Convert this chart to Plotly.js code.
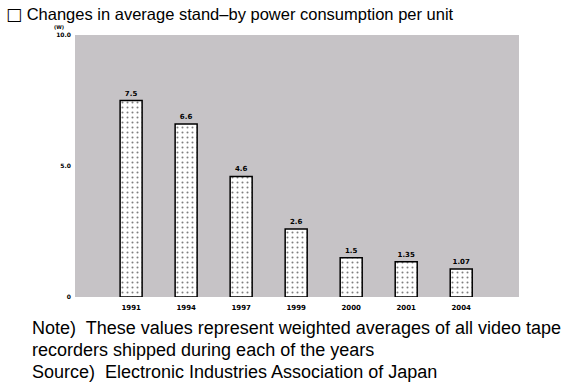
<!DOCTYPE html>
<html>
<head>
<meta charset="utf-8">
<script src="https://cdn.plot.ly/plotly-3.0.1.min.js"></script>
<style>
html,body{margin:0;padding:0;background:#fff;}
#chart{width:572px;height:391px;}
</style>
</head>
<body>
<div id="chart"></div>
<script>
const years = ['1991', '1994', '1997', '1999', '2000', '2001', '2004'];
const values = [7.5, 6.6, 4.6, 2.6, 1.5, 1.35, 1.07];
const valueLabels = ['7.5', '6.6', '4.6', '2.6', '1.5', '1.35', '1.07'];
const yTickVals = [0, 5, 10];
const yTickText = ['0', '5.0', '10.0'];
const titleText = 'Changes in average stand–by power consumption per unit';
const noteLines = [
  'Note)  These values represent weighted averages of all video tape',
  'recorders shipped during each of the years',
  'Source)  Electronic Industries Association of Japan'
];

const trace = {
  type: 'bar',
  x: years,
  y: values,
  text: valueLabels,
  texttemplate: '%{text}',
  textposition: 'outside',
  cliponaxis: false,
  textfont: {family: 'DejaVu Sans', size: 7, color: '#000', weight: 'bold'},
  width: 0.4,
  marker: {
    color: '#ffffff',
    line: {color: '#000', width: 1.5},
    pattern: {shape: '.', fgcolor: '#000', bgcolor: '#fff', size: 5, solidity: 0.13, fillmode: 'overlay'}
  },
  hoverinfo: 'skip'
};

const plotH = 262, plotW = 444, topM = 35, leftM = 75;
const py = (pxY) => (topM + plotH - pxY) / plotH;
const pxX = (pxx) => (pxx - leftM) / plotW;

const annotations = [
  {xref: 'paper', yref: 'paper', x: -0.02, y: 1.0, xanchor: 'right', yanchor: 'bottom', yshift: 3,
   text: '(W)', showarrow: false, font: {family: 'DejaVu Sans', size: 5, color: '#000', weight: 'bold'}},
  {xref: 'paper', yref: 'paper', x: pxX(4), y: py(14), xanchor: 'left', yanchor: 'middle',
   text: '<span style="font-family:\'DejaVu Sans\';font-size:17px">□</span> ' + titleText, showarrow: false,
   font: {family: 'Liberation Sans', size: 16.5, color: '#000'}}
];
const noteY = [328, 350, 372];
noteLines.forEach((t, i) => {
  annotations.push({xref: 'paper', yref: 'paper', x: pxX(30), y: py(noteY[i]), xanchor: 'left', yanchor: 'middle',
    text: t, showarrow: false, font: {family: 'Liberation Sans', size: 18, color: '#000'}});
});

const layout = {
  width: 572, height: 391,
  margin: {l: leftM, r: 53, t: topM, b: 94},
  paper_bgcolor: '#ffffff',
  plot_bgcolor: '#c6c3c6',
  showlegend: false,
  bargap: 0.6,
  xaxis: {
    type: 'category',
    range: [-1.02, 7.05],
    showgrid: false, zeroline: false, showline: false,
    ticks: '', ticklen: 0,
    ticklabelstandoff: 5,
    tickfont: {family: 'DejaVu Sans', size: 7, color: '#000', weight: 'bold'},
    fixedrange: true
  },
  yaxis: {
    range: [0, 10],
    tickvals: yTickVals,
    ticktext: yTickText,
    showgrid: false, zeroline: false, showline: false,
    ticks: '', ticklen: 0,
    ticklabelstandoff: 3,
    tickfont: {family: 'DejaVu Sans', size: 6, color: '#000', weight: 'bold'},
    fixedrange: true
  },
  annotations: annotations
};

Plotly.newPlot('chart', [trace], layout, {displayModeBar: false, staticPlot: true});
</script>
</body>
</html>
